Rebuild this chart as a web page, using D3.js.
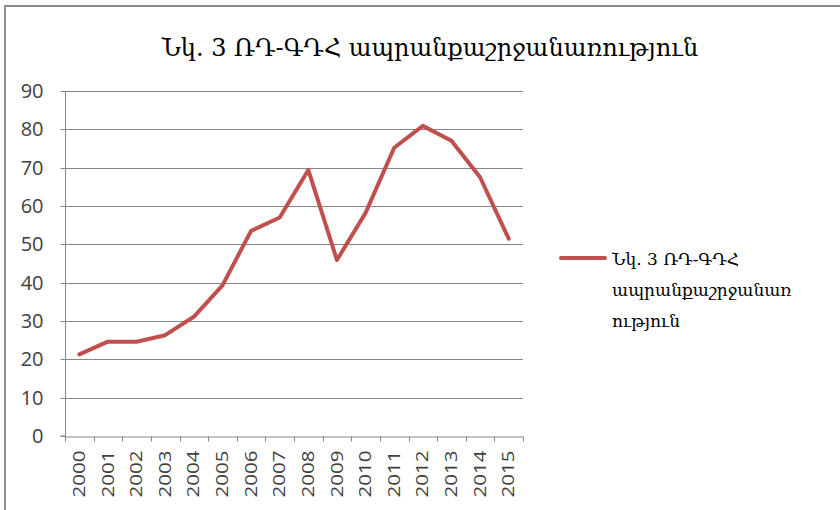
<!DOCTYPE html>
<html><head><meta charset="utf-8">
<script src="https://cdn.jsdelivr.net/npm/d3@7"></script>
<style>body{margin:0;background:#fff}svg{display:block}</style>
</head><body>
<svg id="c" width="840" height="510"></svg>
<script>
const years = ["2000","2001","2002","2003","2004","2005","2006","2007","2008","2009","2010","2011","2012","2013","2014","2015"];
const values = [21.3,24.6,24.6,26.3,31.1,39.3,53.5,57.0,69.4,45.9,58.2,75.2,80.9,77.0,67.5,51.5];
const yTicks = [0,10,20,30,40,50,60,70,80,90];
const title = "Նկ. 3 ՌԴ-ԳԴՀ ապրանքաշրջանառություն";
const legendLines = ["Նկ. 3 ՌԴ-ԳԴՀ","ապրանքաշրջանառ","ություն"];

const svg = d3.select("#c");
const color = "#c0504d";
const gridColor = "#868686";
const L = 65, R = 523, T = 91, B = 436;

svg.append("rect").attr("x",0).attr("y",0).attr("width",840).attr("height",510).attr("fill","#fff");
svg.append("path").attr("d","M5,510 V6 H840").attr("fill","none").attr("stroke","#8c8c8c").attr("stroke-width",2);

const x = d3.scaleBand().domain(years).range([L,R]);
const y = d3.scaleLinear().domain([0,90]).range([B,T]);

// gridlines
svg.append("g").selectAll("line").data(yTicks.filter(d=>d>0)).join("line")
  .attr("x1",L).attr("x2",R).attr("y1",d=>Math.round(y(d))+0.5).attr("y2",d=>Math.round(y(d))+0.5)
  .attr("stroke",gridColor).attr("stroke-width",1);

// y axis
const ya = svg.append("g").attr("transform",`translate(${L+0.5},0)`)
  .call(d3.axisLeft(y).tickValues(yTicks).tickSize(5).tickPadding(17));
ya.select(".domain").attr("stroke",gridColor).attr("d",`M-5,${B}H0V${T}`);
ya.selectAll(".tick line").attr("stroke",gridColor);
ya.selectAll(".tick").attr("transform",d=>`translate(0,${Math.round(y(d))+0.5})`);
ya.selectAll("text").attr("font-family","'Open Sans','DejaVu Sans',sans-serif").attr("font-size",20).attr("fill","#404040");

// x axis
const xa = svg.append("g").attr("transform",`translate(0,${B+0.5})`)
  .call(d3.axisBottom(x).tickSize(0).tickPadding(0));
xa.select(".domain").attr("stroke",gridColor);
xa.selectAll(".tick line").remove();
const bounds = years.map((d,i)=>x(d)).concat([R]);
xa.append("g").selectAll("line").data(bounds).join("line")
  .attr("x1",d=>Math.round(d)+0.5).attr("x2",d=>Math.round(d)+0.5).attr("y1",0).attr("y2",5)
  .attr("stroke",gridColor);
xa.selectAll(".tick text")
  .attr("transform","rotate(-90)")
  .attr("x",-14).attr("y",0).attr("dy","0.35em")
  .attr("text-anchor","end")
  .attr("textLength",47).attr("lengthAdjust","spacingAndGlyphs")
  .attr("font-family","'Open Sans','DejaVu Sans',sans-serif").attr("font-size",16).attr("fill","#404040");

// line
const line = d3.line().x((d,i)=>x(years[i])+x.bandwidth()/2).y(d=>y(d));
svg.append("path").datum(values).attr("d",line)
  .attr("fill","none").attr("stroke",color).attr("stroke-width",4).attr("stroke-linejoin","round").attr("stroke-linecap","round");

// title
svg.append("text").attr("x",430).attr("y",56).attr("text-anchor","middle")
  .attr("font-family","'DejaVu Serif',serif").attr("font-size",24).attr("fill","#000").text(title);

// legend
svg.append("line").attr("x1",561).attr("x2",605).attr("y1",258).attr("y2",258)
  .attr("stroke",color).attr("stroke-width",4).attr("stroke-linecap","round");
svg.append("g").selectAll("text").data(legendLines).join("text")
  .attr("x",612).attr("y",(d,i)=>265+i*31)
  .attr("font-family","'DejaVu Serif',serif").attr("font-size",17).attr("fill","#000").text(d=>d);
</script>
</body></html>
